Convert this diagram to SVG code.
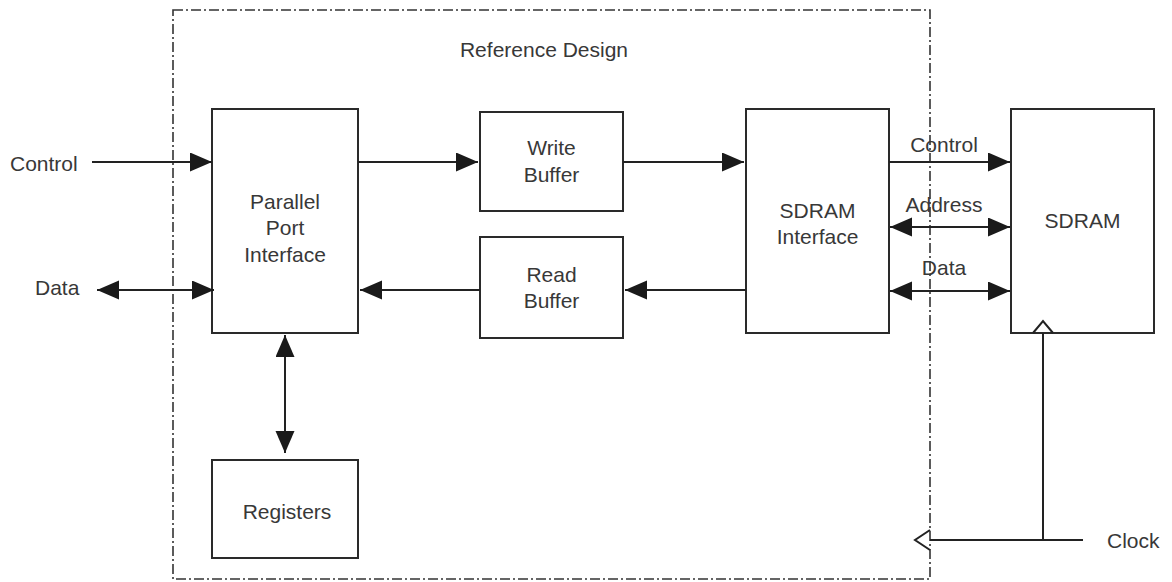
<svg xmlns="http://www.w3.org/2000/svg" width="1172" height="582" viewBox="0 0 1172 582">
<style>
.box{fill:#fff;stroke:#2a2a2a;stroke-width:2}
.ln{fill:none;stroke:#222;stroke-width:2}
.open{fill:none;stroke:#222;stroke-width:2;stroke-linejoin:miter}
.frame{fill:none;stroke:#333;stroke-width:1.6;stroke-dasharray:10 3 2 3}
text{font-family:"Liberation Sans",Arial,sans-serif;font-size:21px;fill:#383838}
.c{text-anchor:middle}
</style>
<defs>
<marker id="ah" markerUnits="userSpaceOnUse" markerWidth="23" markerHeight="20" refX="22" refY="9.5" orient="auto-start-reverse" viewBox="0 0 23 20">
<path d="M0,0 L22,9.5 L0,19 z" fill="#1a1a1a"/>
</marker>
</defs>
<rect id="frame" class="frame" x="173" y="10" width="757" height="569"/>
<text class="c" x="544" y="57">Reference Design</text>
<g id="ppi"><rect class="box" x="212" y="109" width="146" height="224"/>
<text class="c" x="285" y="209">Parallel</text><text class="c" x="285" y="235">Port</text><text class="c" x="285" y="262">Interface</text></g>
<g id="writebuf"><rect class="box" x="480" y="112" width="143" height="99"/>
<text class="c" x="551.5" y="155">Write</text><text class="c" x="551.5" y="182">Buffer</text></g>
<g id="readbuf"><rect class="box" x="480" y="237" width="143" height="101"/>
<text class="c" x="551.5" y="282">Read</text><text class="c" x="551.5" y="308">Buffer</text></g>
<g id="sdramif"><rect class="box" x="746" y="109" width="143" height="224"/>
<text class="c" x="817.5" y="218">SDRAM</text><text class="c" x="817.5" y="244">Interface</text></g>
<g id="sdram"><rect class="box" x="1011" y="109" width="143" height="224"/>
<text class="c" x="1082.5" y="228">SDRAM</text></g>
<g id="registers"><rect class="box" x="212" y="460" width="146" height="98"/>
<text class="c" x="287" y="519">Registers</text></g>
<g id="connectors">
<line class="ln" x1="92" y1="162" x2="212" y2="162" marker-end="url(#ah)"/>
<line class="ln" x1="97" y1="290" x2="214" y2="290" marker-start="url(#ah)" marker-end="url(#ah)"/>
<line class="ln" x1="358" y1="162" x2="478" y2="162" marker-end="url(#ah)"/>
<line class="ln" x1="623" y1="162" x2="744" y2="162" marker-end="url(#ah)"/>
<line class="ln" x1="746" y1="290" x2="625" y2="290" marker-end="url(#ah)"/>
<line class="ln" x1="480" y1="290" x2="360" y2="290" marker-end="url(#ah)"/>
<line class="ln" x1="889" y1="162" x2="1010" y2="162" marker-end="url(#ah)"/>
<line class="ln" x1="890" y1="227" x2="1010" y2="227" marker-start="url(#ah)" marker-end="url(#ah)"/>
<line class="ln" x1="890" y1="291" x2="1010" y2="291" marker-start="url(#ah)" marker-end="url(#ah)"/>
<line class="ln" x1="285" y1="335" x2="285" y2="453" marker-start="url(#ah)" marker-end="url(#ah)"/>
<polyline class="ln" points="1083,540 930,540"/>
<polyline class="ln" points="1043,540 1043,333"/>
<polyline class="open" points="930,530 915,540 930,550"/>
<polyline class="open" points="1033,333 1043,321 1053,333"/>
</g>
<text x="10" y="171">Control</text>
<text x="35" y="295">Data</text>
<text class="c" x="944" y="152">Control</text>
<text class="c" x="944" y="212">Address</text>
<text class="c" x="944" y="275">Data</text>
<text x="1107" y="548">Clock</text>
</svg>
